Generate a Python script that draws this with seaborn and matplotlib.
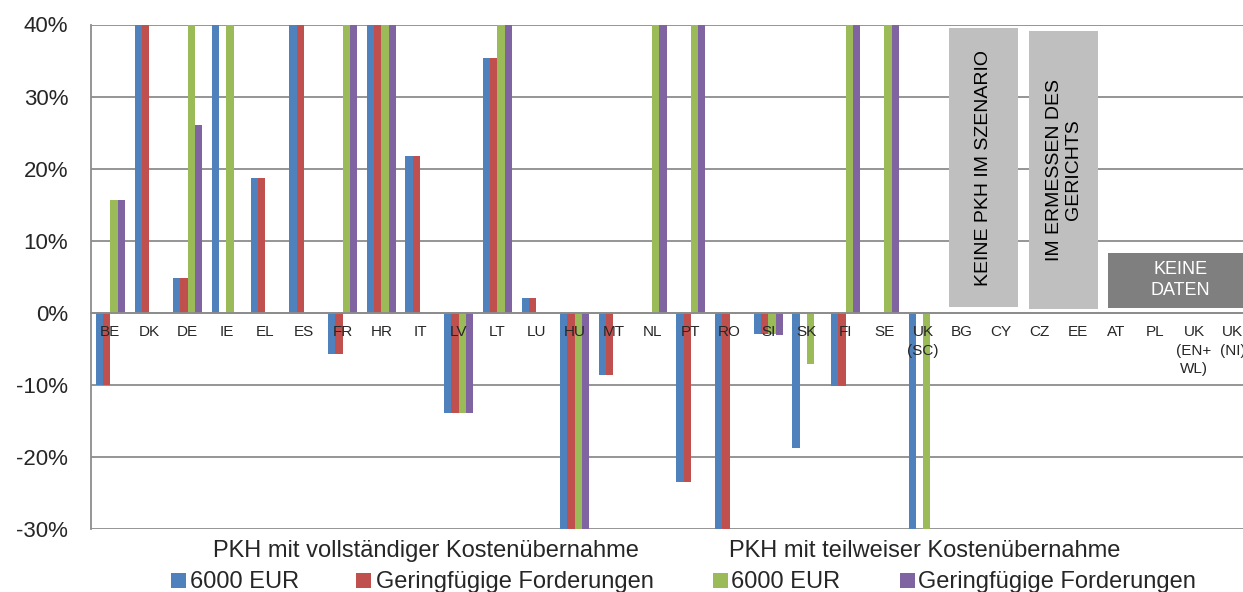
import numpy as np
import pandas as pd
import matplotlib
matplotlib.use("Agg")
import matplotlib.pyplot as plt
from matplotlib.patches import Rectangle
from matplotlib.ticker import FuncFormatter
import seaborn as sns

# --- Daten (Werte in %) ---
laender = ['BE', 'DK', 'DE', 'IE', 'EL', 'ES', 'FR', 'HR', 'IT', 'LV', 'LT', 'LU',
           'HU', 'MT', 'NL', 'PT', 'RO', 'SI', 'SK', 'FI', 'SE', 'UK\n(SC)',
           'BG', 'CY', 'CZ', 'EE', 'AT', 'PL', 'UK\n(EN+\nWL)', 'UK\n(NI)']
nan = np.nan
voll_6000 = [-10, 40, 4.8, 40, 18.7, 40, -5.7, 40, 21.8, -13.9, 35.4, 2.1,
             -30, -8.7, nan, -23.5, -30, -3.0, -18.7, -10.2, nan, -30,
             nan, nan, nan, nan, nan, nan, nan, nan]
voll_gering = [-10, 40, 4.8, nan, 18.7, 40, -5.7, 40, 21.8, -13.9, 35.4, 2.1,
               -30, -8.7, nan, -23.5, -30, -3.0, nan, -10.2, nan, nan,
               nan, nan, nan, nan, nan, nan, nan, nan]
teil_6000 = [15.6, nan, 40, 40, nan, nan, 40, 40, nan, -13.9, 40, nan,
             -30, nan, 40, 40, nan, -3.0, -7.1, 40, 40, -30,
             nan, nan, nan, nan, nan, nan, nan, nan]
teil_gering = [15.6, nan, 26.1, nan, nan, nan, 40, 40, nan, -13.9, 40, nan,
               -30, nan, 40, 40, nan, -3.1, nan, 40, 40, nan,
               nan, nan, nan, nan, nan, nan, nan, nan]

reihen = ['voll_6000', 'voll_gering', 'teil_6000', 'teil_gering']
farben = ['#4F81BD', '#C0504D', '#9BBB59', '#8064A2']
legenden_text = ['6000 EUR', 'Geringfügige Forderungen', '6000 EUR', 'Geringfügige Forderungen']
gruppen_titel = ['PKH mit vollständiger Kostenübernahme', 'PKH mit teilweiser Kostenübernahme']

df = pd.concat([
    pd.DataFrame({'land': laender, 'wert': werte, 'reihe': name})
    for name, werte in zip(reihen, [voll_6000, voll_gering, teil_6000, teil_gering])
], ignore_index=True)

# --- Stil ---
sns.set_style('white')
plt.rcParams['font.family'] = ['Liberation Sans', 'DejaVu Sans']
grau = '#8C8C8C'

W, H = 1243, 592
fig = plt.figure(figsize=(W / 100, H / 100), dpi=100)
ax = fig.add_axes([91 / W, 1 - 529 / H, 1161 / W, (529 - 24.5) / H])

sns.barplot(data=df, x='land', y='wert', hue='reihe', order=laender, hue_order=reihen,
            palette=farben, saturation=1, width=0.75, errorbar=None, legend=False,
            edgecolor='none', zorder=2, ax=ax)

ax.set_xlim(-0.5, len(laender) - 0.5)
ax.set_ylim(-30, 40)
ax.set_xlabel('')
ax.set_ylabel('')

# Achsen
for s in ['top', 'right']:
    ax.spines[s].set_visible(False)
ax.spines['left'].set_color(grau)
ax.spines['left'].set_linewidth(1.3)
ax.spines['bottom'].set_color(grau)
ax.spines['bottom'].set_linewidth(1.3)
ax.spines['bottom'].set_position(('data', 0))

ax.set_yticks(range(-30, 41, 10))
ax.yaxis.set_major_formatter(FuncFormatter(lambda v, p: f'{int(v)}%'))
ax.tick_params(axis='y', length=4.3, width=1.1, color=grau, pad=12, labelsize=16)
ax.yaxis.grid(True, color=grau, linewidth=1.3)
ax.xaxis.grid(False)

ax.set_xticks(range(len(laender)))
ax.set_xticklabels(laender)
ax.set_xticks(np.arange(-0.5, len(laender), 1), minor=True)
ax.tick_params(axis='x', which='major', length=0, pad=9, labelsize=11)
ax.tick_params(axis='x', which='minor', length=3.6, width=1.1, color=grau, direction='out')
for t in ax.get_xticklabels():
    t.set_linespacing(1.4)

ax.set_axisbelow(True)
ax.xaxis.set_zorder(4)

# Hinweisboxen
ax.add_patch(Rectangle((21.67, 0.8), 1.79, 38.7, facecolor='#BFBFBF', edgecolor='none', zorder=3))
ax.text(22.57, 20.15, 'KEINE PKH IM SZENARIO', rotation=90, ha='center', va='center',
        fontsize=14, color='black', zorder=4)
ax.add_patch(Rectangle((23.74, 0.5), 1.79, 38.6, facecolor='#BFBFBF', edgecolor='none', zorder=3))
ax.text(24.64, 19.8, 'IM ERMESSEN DES\nGERICHTS', rotation=90, ha='center', va='center',
        fontsize=14, color='black', linespacing=1.15, multialignment='center', zorder=4)
ax.add_patch(Rectangle((25.79, 0.65), 5, 7.65, facecolor='#7F7F7F', edgecolor='none', zorder=3))
ax.text(27.65, 4.5, 'KEINE\nDATEN', ha='center', va='center', fontsize=13, color='white',
        linespacing=1.3, multialignment='center', zorder=4)

# Legende
def fx(px):
    return px / W

def fy(py):
    return 1 - py / H

fig.text(fx(425.5), fy(557), gruppen_titel[0], ha='center', va='baseline', fontsize=17)
fig.text(fx(924.5), fy(557), gruppen_titel[1], ha='center', va='baseline', fontsize=17)

quadrat_x = [171, 356, 713, 900]
text_x = [190, 376, 731, 918]
for qx, tx, farbe, lab in zip(quadrat_x, text_x, farben, legenden_text):
    fig.patches.append(Rectangle((fx(qx), fy(588)), 15 / W, 15 / H, facecolor=farbe,
                                 edgecolor='none', transform=fig.transFigure, figure=fig))
    fig.text(fx(tx), fy(588), lab, ha='left', va='baseline', fontsize=17)

fig.savefig('out.png', dpi=100)
